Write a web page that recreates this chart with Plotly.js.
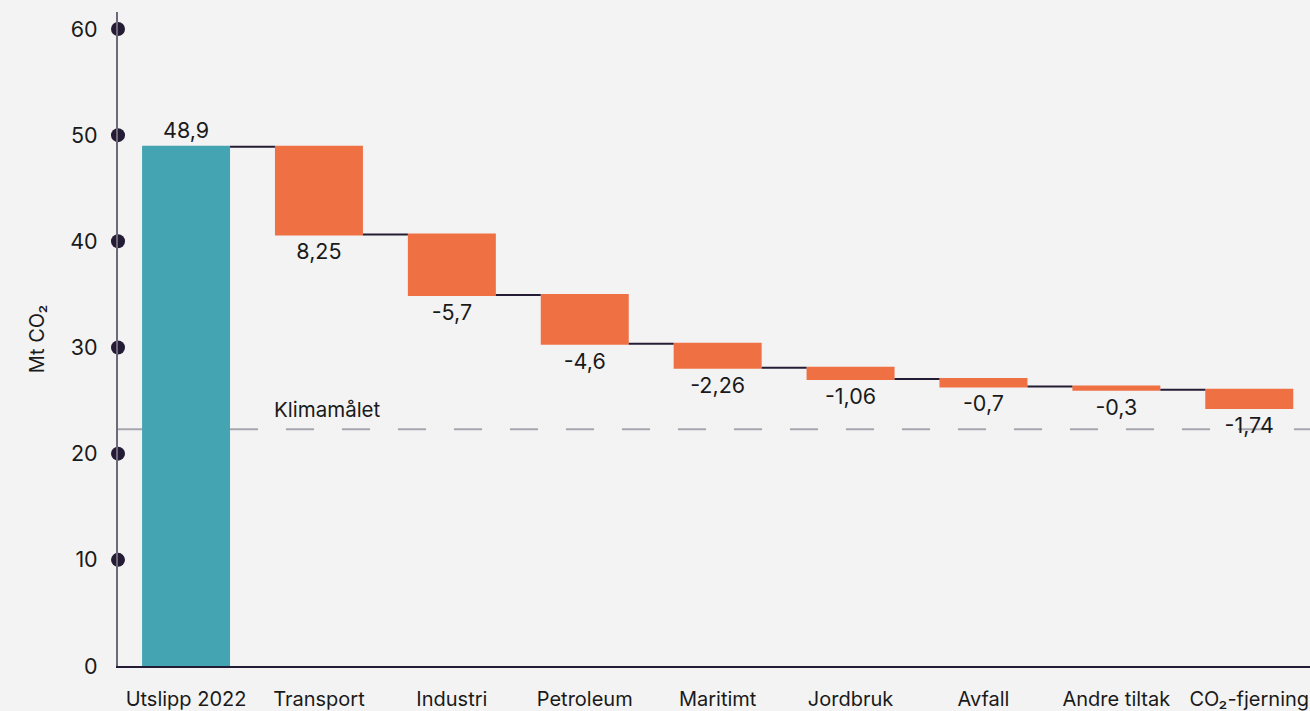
<!DOCTYPE html>
<html>
<head>
<meta charset="utf-8">
<script src="https://cdn.plot.ly/plotly-3.0.1.min.js"></script>
<style>html,body{margin:0;padding:0;background:#f3f3f3;}#chart{width:1310px;height:711px;}</style>
</head>
<body>
<div id="chart"></div>
<script>
const categories = ["Utslipp 2022","Transport","Industri","Petroleum","Maritimt","Jordbruk","Avfall","Andre tiltak","CO₂-fjerning"];
const values = [48.9, -8.25, -5.7, -4.6, -2.26, -1.06, -0.7, -0.3, -1.74];
const measures = ["absolute","relative","relative","relative","relative","relative","relative","relative","relative"];
const valueLabels = ["48,9","8,25","-5,7","-4,6","-2,26","-1,06","-0,7","-0,3","-1,74"];
const yTicks = [0,10,20,30,40,50,60];
const dotTicks = [10,20,30,40,50,60];
const targetValue = 22.3;
const targetLabel = "Klimamålet";

const xIdx = categories.map((_, i) => i);
const font = "Inter, 'Noto Sans', Arial, sans-serif";
const dark = "#241c35";

const traces = [
  {
    type: "waterfall",
    x: xIdx,
    y: values,
    measure: measures,
    text: valueLabels,
    textposition: "outside",
    textfont: {family: font, size: 21.5, color: "#1a1a1a"},
    cliponaxis: false,
    width: 0.662,
    totals: {marker: {color: "#44a4b2"}},
    decreasing: {marker: {color: "#ef7043"}},
    increasing: {marker: {color: "#ef7043"}},
    connector: {line: {color: dark, width: 2}},
    hoverinfo: "skip"
  },
  {
    type: "scatter",
    mode: "markers",
    xaxis: "x2",
    x: dotTicks.map(() => 0),
    y: dotTicks,
    marker: {color: dark, size: 14},
    cliponaxis: false,
    hoverinfo: "skip"
  }
];

const layout = {
  width: 1310, height: 711,
  paper_bgcolor: "#f3f3f3",
  plot_bgcolor: "#f3f3f3",
  showlegend: false,
  margin: {l: 118, r: 0, t: 12, b: 45},
  font: {family: font, color: "#1a1a1a"},
  xaxis: {
    range: [-0.512, 8.457],
    tickvals: xIdx,
    ticktext: categories,
    tickfont: {family: font, size: 20, color: "#1a1a1a"},
    showgrid: false, zeroline: false,
    showline: true, linecolor: dark, linewidth: 2,
    ticks: "", ticklabelstandoff: 14,
    automargin: false, fixedrange: true
  },
  xaxis2: {
    overlaying: "x", range: [0, 1], visible: false, fixedrange: true
  },
  yaxis: {
    range: [0, 61.6],
    tickvals: yTicks,
    tickfont: {family: font, size: 21.5, color: "#1a1a1a"},
    showgrid: false, zeroline: false,
    showline: true, linecolor: "#6e6878", linewidth: 2,
    ticks: "", ticklabelstandoff: 14,
    title: {text: "Mt CO₂", font: {family: font, size: 20, color: "#1a1a1a"}, standoff: 20},
    automargin: false, fixedrange: true
  },
  shapes: [{
    type: "line", xref: "paper", x0: 0, x1: 1, yref: "y", y0: targetValue, y1: targetValue,
    line: {color: "#a6a6ae", width: 2, dash: "28px,28px"}, layer: "below"
  }],
  annotations: [{
    xref: "paper", x: 0.129, yref: "y", y: targetValue, yshift: 5,
    xanchor: "left", yanchor: "bottom", showarrow: false,
    text: targetLabel, font: {family: font, size: 20.5, color: "#1a1a1a"}
  }]
};

Plotly.newPlot("chart", traces, layout, {displayModeBar: false, staticPlot: true});
</script>
</body>
</html>
